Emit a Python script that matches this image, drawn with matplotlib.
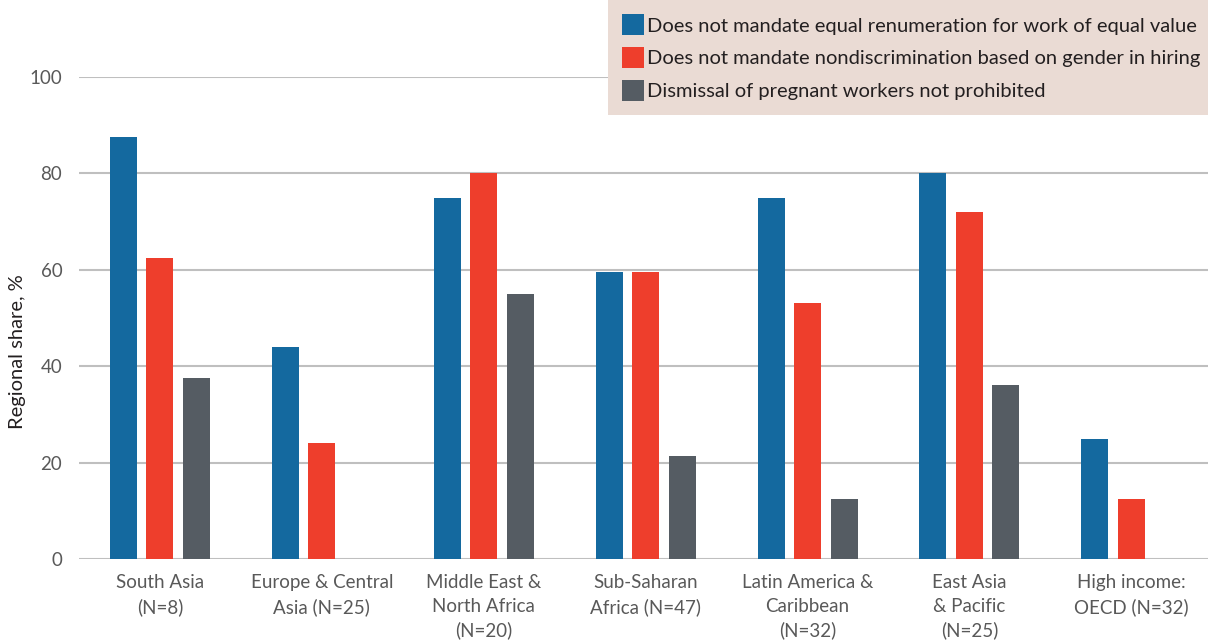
import matplotlib
matplotlib.use("Agg")
import matplotlib.pyplot as plt
import numpy as np
from matplotlib.patches import Patch

categories = ["South Asia\n(N=8)", "Europe & Central\nAsia (N=25)", "Middle East &\nNorth Africa\n(N=20)",
              "Sub-Saharan\nAfrica (N=47)", "Latin America &\nCaribbean\n(N=32)", "East Asia\n& Pacific\n(N=25)",
              "High income:\nOECD (N=32)"]
series_names = ["Does not mandate equal renumeration for work of equal value",
                "Does not mandate nondiscrimination based on gender in hiring",
                "Dismissal of pregnant workers not prohibited"]
equal_pay = [87.5, 44, 75, 59.6, 75, 80, 25]
nondiscrimination = [62.5, 24, 80, 59.6, 53.1, 72, 12.5]
dismissal = [37.5, 0, 55, 21.3, 12.5, 36, 0]
yticks = [0, 20, 40, 60, 80, 100]

colors = ["#14699F", "#EE3E2C", "#555C63"]
plt.rcParams['font.family'] = ['Lato', 'DejaVu Sans']

W, H = 1208, 644
fig = plt.figure(figsize=(W / 100, H / 100), dpi=100)
left, right, bottom, top = 79, 1208, 559, 77
ax = fig.add_axes([left / W, 1 - bottom / H, (right - left) / W, (bottom - top) / H])

x = np.arange(len(categories))
off = 36.5 / 161.9
bw = 27 / 161.9
for i, (vals, c) in enumerate(zip([equal_pay, nondiscrimination, dismissal], colors)):
    ax.bar(x + (i - 1) * off, vals, width=bw, color=c, zorder=3, label=series_names[i])

ax.set_ylim(0, 100)
ax.set_xlim(-0.5, -0.5 + (right - left) / 161.9)
ax.set_yticks(yticks)
ax.yaxis.grid(True, color="#BFBFBF", linewidth=1.5, zorder=0)
ax.set_axisbelow(True)
for s in ax.spines.values():
    s.set_visible(False)
ax.tick_params(axis='both', length=0, labelsize=13.5, labelcolor="#595959")
ax.tick_params(axis='y', pad=12)
ax.tick_params(axis='x', pad=11)
ax.set_xticks(x)
ax.set_xticklabels(categories, linespacing=1.45)
fig.text(18 / W, 1 - 352 / H, "Regional share, %", rotation=90, fontsize=14.5,
         color="#231F20", ha='center', va='center')

handles = [Patch(facecolor=c, edgecolor='none') for c in colors]
leg = fig.legend(handles, series_names, loc='upper right', bbox_to_anchor=(1.005, 1.0),
                 frameon=True, fancybox=False, facecolor="#EADBD4", edgecolor='none', framealpha=1,
                 fontsize=14.5, handlelength=1.05, handleheight=1.25, handletextpad=0.15,
                 labelspacing=0.58, borderpad=0.7, borderaxespad=0)
for t in leg.get_texts():
    t.set_color("#231F20")

fig.savefig("out.png", dpi=100)
